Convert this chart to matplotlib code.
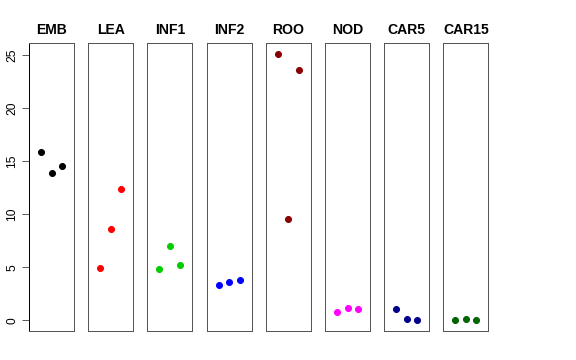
import matplotlib
matplotlib.use("Agg")
import matplotlib.pyplot as plt

plt.rcParams['font.family'] = ['Liberation Sans', 'DejaVu Sans']

tissues = ['EMB', 'LEA', 'INF1', 'INF2', 'ROO', 'NOD', 'CAR5', 'CAR15']
colors = ['black', '#FF0000', '#00CD00', '#0000FF', '#8B0000', '#FF00FF', '#00008B', '#006400']
reps = [1, 2, 3]
values = [
    [15.86, 13.85, 14.54],
    [4.93, 8.60, 12.35],
    [4.86, 7.00, 5.18],
    [3.36, 3.58, 3.83],
    [25.13, 9.55, 23.56],
    [0.81, 1.13, 1.06],
    [1.06, 0.09, 0.03],
    [0.06, 0.12, 0.06],
]
yticks = [0, 5, 10, 15, 20, 25]

W, H = 576, 360
fig = plt.figure(figsize=(W / 72, H / 72), dpi=72)

left0, step, pw = 29, 59.2, 45
top, bottom = 43, 331

for i, (name, col, vals) in enumerate(zip(tissues, colors, values)):
    x0 = left0 + i * step
    ax = fig.add_axes([x0 / W, (H - bottom) / H, pw / W, (bottom - top) / H])
    ax.plot(reps, vals, 'o', color=col, markersize=6, linestyle='none')
    ax.set_xlim(-0.16, 4.16)
    ax.set_ylim(-1.01, 26.13)
    ax.set_xticks([])
    ax.set_title(name, fontsize=14, fontweight='bold', pad=9)
    for s in ax.spines.values():
        s.set_color('#555555')
        s.set_linewidth(1)
    if i == 0:
        ax.spines['left'].set_color('black')
        ax.set_yticks(yticks)
        ax.set_yticklabels([str(t) for t in yticks], rotation=90, va='center', fontsize=12)
        ax.tick_params(axis='y', length=7, pad=4, colors='#333333', labelcolor='black')
    else:
        ax.set_yticks([])

fig.savefig('out.png', dpi=72)
